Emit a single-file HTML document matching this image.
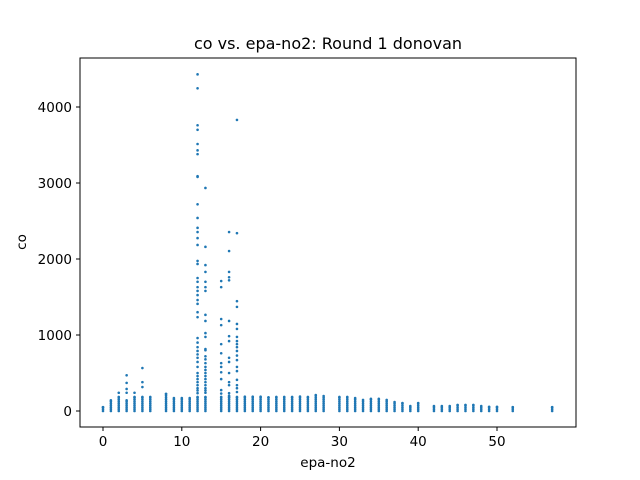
<!DOCTYPE html>
<html><head><meta charset="utf-8"><style>
body{margin:0;background:#fff}
svg{display:block;font-family:"DejaVu Sans","Liberation Sans",sans-serif}
</style></head><body>
<svg id="chart" width="640" height="480">
<rect x="0" y="0" width="640" height="480" fill="#fff"/>
<text x="328" y="49" font-size="16" text-anchor="middle">co vs. epa-no2: Round 1 donovan</text>
<g id="points"></g>
<rect x="80" y="58" width="496" height="369" fill="none" stroke="#000" stroke-width="1"/>
<g id="xticks"></g>
<g id="yticks"></g>
<text x="328" y="467" font-size="13.5" text-anchor="middle">epa-no2</text>
<text transform="translate(26,242) rotate(-90)" font-size="13.5" text-anchor="middle">co</text>
</svg>
<script>
const colX=[0,1,2,3,4,5,6,8,9,10,11,12,13,15,16,17,18,19,20,21,22,23,24,25,26,27,28,30,31,32,33,34,35,36,37,38,39,40,42,43,44,45,46,47,48,49,50,52,57];
const colTop=[50,140,185,140,185,185,185,225,170,170,170,185,185,185,185,185,188,188,188,180,185,185,185,190,185,210,197,185,185,170,145,160,160,145,118,105,65,105,65,65,65,80,80,80,65,55,55,50,50];
const out2=[240];
const out3=[470,370,290,240];
const out4=[240];
const out5=[565,380,315];
const out12=[4430,4246,3760,3700,3513,3430,3380,3090,3080,2720,2540,2410,2355,2275,2185,1975,1935,1750,1700,1630,1580,1525,1460,1410,1300,1235,960,900,840,790,745,700,645,580,500,460,420,380,340,300,270,235];
const out13=[2935,2160,1920,1830,1700,1630,1580,1265,1185,1025,975,815,800,720,680,630,580,540,500,460,420,380,340,300,270,240];
const out15=[1710,1630,1210,1130,880,760,630,580,510,420,275,230];
const out16=[2355,2105,1830,1760,1720,1185,985,920,700,645,500,380,340,235,200];
const out17=[3830,2340,1445,1370,1145,1080,975,920,880,840,790,730,670,580,525,410,340,300,250];
const outCols=[[2,out2],[3,out3],[4,out4],[5,out5],[12,out12],[13,out13],[15,out15],[16,out16],[17,out17]];
const xTicks=[0,10,20,30,40,50];
const yTicks=[0,1000,2000,3000,4000];
const X=v=>103+v*7.88;
const Y=v=>411-v*0.076;
const NS='http://www.w3.org/2000/svg';
const pg=document.getElementById('points');
function dot(x,y){
  const c=document.createElementNS(NS,'circle');
  c.setAttribute('cx',X(x));c.setAttribute('cy',Y(y));c.setAttribute('r',1.3);c.setAttribute('fill','#1f77b4');
  
  
  pg.appendChild(c);
}
colX.forEach((x,i)=>{for(let v=0;v<=colTop[i];v+=25)dot(x,v);dot(x,colTop[i]);});
outCols.forEach(([x,vals])=>vals.forEach(v=>dot(x,v)));
const xg=document.getElementById('xticks');
xTicks.forEach(t=>{
  const l=document.createElementNS(NS,'line');
  l.setAttribute('x1',X(t));l.setAttribute('x2',X(t));l.setAttribute('y1',427);l.setAttribute('y2',431);l.setAttribute('stroke','#000');
  
  
  xg.appendChild(l);
  const tx=document.createElementNS(NS,'text');
  tx.setAttribute('x',X(t));tx.setAttribute('y',446);tx.setAttribute('font-size','13.5');tx.setAttribute('text-anchor','middle');
  tx.textContent=t;
  
  
  xg.appendChild(tx);
});
const yg=document.getElementById('yticks');
yTicks.forEach(t=>{
  const l=document.createElementNS(NS,'line');
  l.setAttribute('x1',76);l.setAttribute('x2',80);l.setAttribute('y1',Y(t));l.setAttribute('y2',Y(t));l.setAttribute('stroke','#000');
  
  
  yg.appendChild(l);
  const tx=document.createElementNS(NS,'text');
  tx.setAttribute('x',72);tx.setAttribute('y',Y(t)+5);tx.setAttribute('font-size','13.5');tx.setAttribute('text-anchor','end');
  tx.textContent=t;
  
  
  yg.appendChild(tx);
});
</script>
</body></html>
